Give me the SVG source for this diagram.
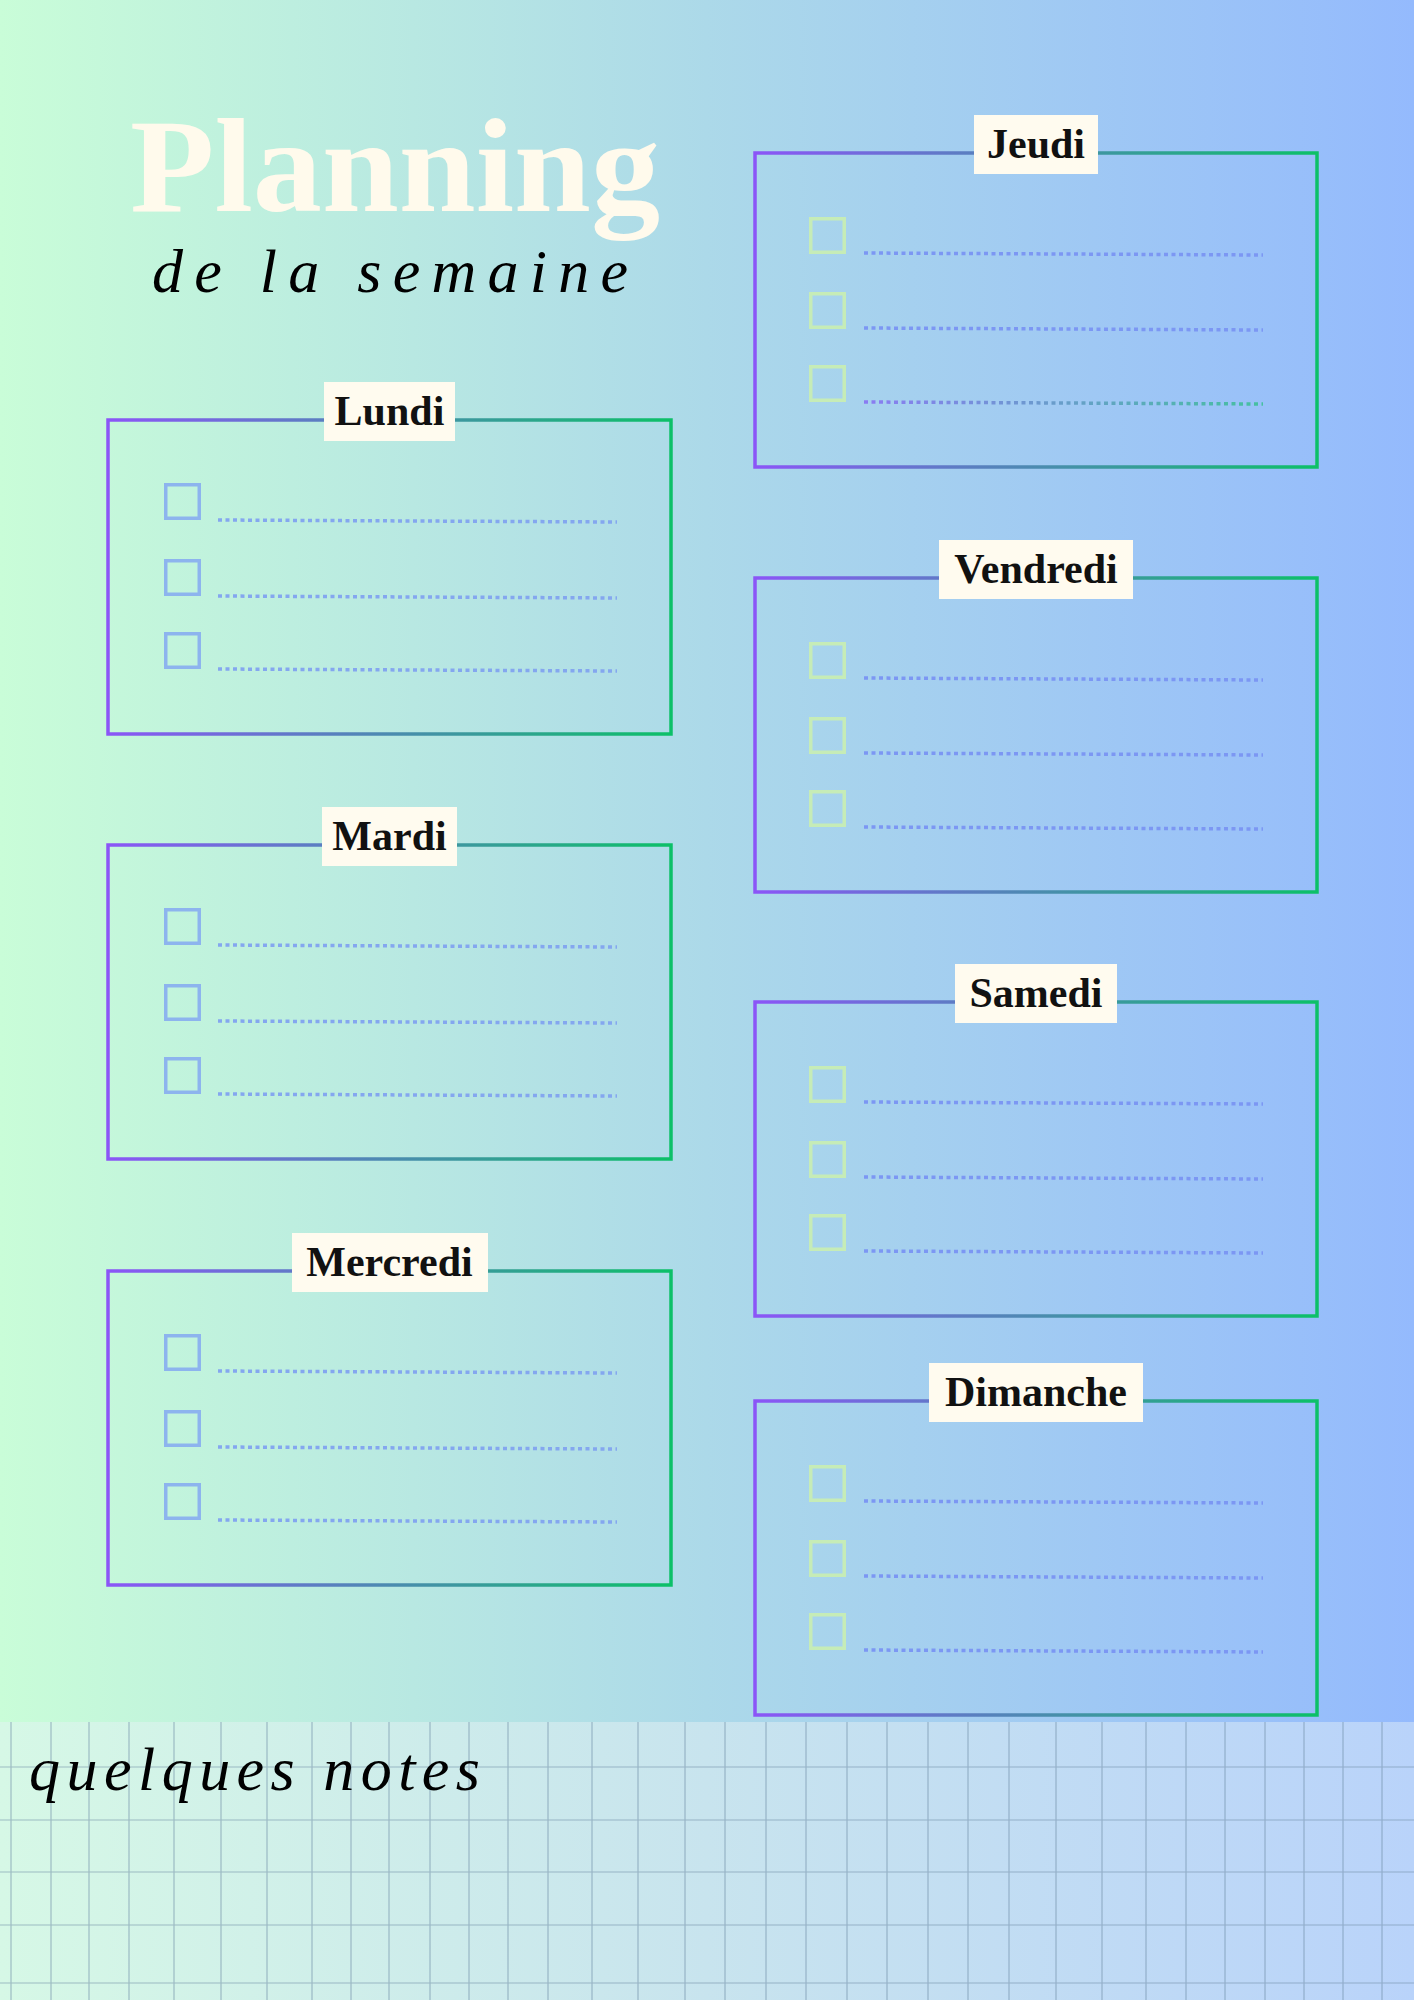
<svg xmlns="http://www.w3.org/2000/svg" width="1414" height="2000" viewBox="0 0 1414 2000">
<defs>
<linearGradient id="bg" x1="0" y1="0" x2="1" y2="0">
<stop offset="0" stop-color="#c9fdd8"/>
<stop offset="0.5" stop-color="#acd9e9"/>
<stop offset="1" stop-color="#94bafd"/>
</linearGradient>
<linearGradient id="paper" x1="0" y1="0" x2="1" y2="0">
<stop offset="0" stop-color="#d6f8e6"/>
<stop offset="0.5" stop-color="#c8e4ee"/>
<stop offset="1" stop-color="#b9d3fa"/>
</linearGradient>
<linearGradient id="frameGrad" x1="0" y1="0" x2="1" y2="0">
<stop offset="0" stop-color="#8b55f7"/>
<stop offset="1" stop-color="#0cc068"/>
</linearGradient>
<linearGradient id="dotGrad" x1="0" y1="0" x2="1" y2="0">
<stop offset="0" stop-color="#8a7cf2"/>
<stop offset="1" stop-color="#45c0a0"/>
</linearGradient>
</defs>
<style>
.frame{fill:none;stroke:url(#frameGrad);stroke-width:3.5}
.cbl{fill:none;stroke:#8db4ee;stroke-width:3.5}
.cbr{fill:none;stroke:#c6ecb7;stroke-width:3.5}
.dl{stroke:#84a7ef;stroke-width:3.5;stroke-dasharray:4 3.5;fill:none}
.dr{stroke:#7c97f3;stroke-width:3.5;stroke-dasharray:4 3.5;fill:none}
.lab{fill:#fffbef}
.day{font-family:"Liberation Serif","Times New Roman",serif;font-weight:bold;font-size:42px;fill:#111;text-anchor:middle}
.script{font-family:"Liberation Serif","Times New Roman",serif;font-style:italic;fill:#000}
.grid{stroke:#6f8da6;stroke-opacity:0.55;stroke-width:1.2;fill:none}
</style>

<rect x="0" y="0" width="1414" height="2000" fill="url(#bg)"/>

<g id="title">
<text x="130" y="211" font-family="'Liberation Serif','Times New Roman',serif" font-weight="bold" font-size="134" fill="#fffaec" textLength="530" lengthAdjust="spacingAndGlyphs">Planning</text>
<text class="script" x="152" y="292" font-size="62" textLength="476" lengthAdjust="spacing">de la semaine</text>
</g>

<g id="notes">
<rect x="0" y="1722" width="1414" height="278" fill="url(#paper)"/>
<path class="grid" d="M0 1767H1414M0 1820H1414M0 1872H1414M0 1925H1414M0 1983H1414
M11 1722V2000M51 1722V2000M89 1722V2000M129 1722V2000M174 1722V2000M221 1722V2000M267 1722V2000M312 1722V2000M351 1722V2000M389 1722V2000M430 1722V2000M469 1722V2000M508 1722V2000M548 1722V2000M592 1722V2000M638 1722V2000M685 1722V2000M725 1722V2000M766 1722V2000M806 1722V2000M847 1722V2000M887 1722V2000M928 1722V2000M968 1722V2000M1009 1722V2000M1056 1722V2000M1102 1722V2000M1146 1722V2000M1186 1722V2000M1225 1722V2000M1265 1722V2000M1304 1722V2000M1343 1722V2000M1382 1722V2000"/>
<text class="script" x="29" y="1790" font-size="62" textLength="451" lengthAdjust="spacing">quelques notes</text>
</g>

<g id="lundi" transform="translate(108,420)">
<rect class="frame" x="0" y="0" width="563" height="314"/>
<rect class="cbl" x="57.75" y="64.75" width="33.5" height="33.5"/>
<rect class="cbl" x="57.75" y="140.75" width="33.5" height="33.5"/>
<rect class="cbl" x="57.75" y="213.75" width="33.5" height="33.5"/>
<line class="dl" x1="110" y1="100" x2="509" y2="102"/>
<line class="dl" x1="110" y1="176" x2="509" y2="178"/>
<line class="dl" x1="110" y1="249" x2="509" y2="251"/>
<rect class="lab" x="216" y="-38" width="131" height="59"/>
<text class="day" x="281.5" y="5">Lundi</text>
</g>

<g id="mardi" transform="translate(108,845)">
<rect class="frame" x="0" y="0" width="563" height="314"/>
<rect class="cbl" x="57.75" y="64.75" width="33.5" height="33.5"/>
<rect class="cbl" x="57.75" y="140.75" width="33.5" height="33.5"/>
<rect class="cbl" x="57.75" y="213.75" width="33.5" height="33.5"/>
<line class="dl" x1="110" y1="100" x2="509" y2="102"/>
<line class="dl" x1="110" y1="176" x2="509" y2="178"/>
<line class="dl" x1="110" y1="249" x2="509" y2="251"/>
<rect class="lab" x="214" y="-38" width="135" height="59"/>
<text class="day" x="281.5" y="5">Mardi</text>
</g>

<g id="mercredi" transform="translate(108,1271)">
<rect class="frame" x="0" y="0" width="563" height="314"/>
<rect class="cbl" x="57.75" y="64.75" width="33.5" height="33.5"/>
<rect class="cbl" x="57.75" y="140.75" width="33.5" height="33.5"/>
<rect class="cbl" x="57.75" y="213.75" width="33.5" height="33.5"/>
<line class="dl" x1="110" y1="100" x2="509" y2="102"/>
<line class="dl" x1="110" y1="176" x2="509" y2="178"/>
<line class="dl" x1="110" y1="249" x2="509" y2="251"/>
<rect class="lab" x="184" y="-38" width="196" height="59"/>
<text class="day" x="281.5" y="5">Mercredi</text>
</g>

<g id="jeudi" transform="translate(755,153)">
<rect class="frame" x="0" y="0" width="562" height="314"/>
<rect class="cbr" x="55.75" y="65.75" width="33.5" height="33.5"/>
<rect class="cbr" x="55.75" y="140.75" width="33.5" height="33.5"/>
<rect class="cbr" x="55.75" y="213.75" width="33.5" height="33.5"/>
<line class="dr" x1="109" y1="100" x2="508" y2="102"/>
<line class="dr" x1="109" y1="175" x2="508" y2="177"/>
<line class="dr" x1="109" y1="249" x2="508" y2="251" style="stroke:url(#dotGrad)"/>
<rect class="lab" x="219" y="-38" width="124" height="59"/>
<text class="day" x="281" y="5">Jeudi</text>
</g>

<g id="vendredi" transform="translate(755,578)">
<rect class="frame" x="0" y="0" width="562" height="314"/>
<rect class="cbr" x="55.75" y="65.75" width="33.5" height="33.5"/>
<rect class="cbr" x="55.75" y="140.75" width="33.5" height="33.5"/>
<rect class="cbr" x="55.75" y="213.75" width="33.5" height="33.5"/>
<line class="dr" x1="109" y1="100" x2="508" y2="102"/>
<line class="dr" x1="109" y1="175" x2="508" y2="177"/>
<line class="dr" x1="109" y1="249" x2="508" y2="251"/>
<rect class="lab" x="184" y="-38" width="194" height="59"/>
<text class="day" x="281" y="5">Vendredi</text>
</g>

<g id="samedi" transform="translate(755,1002)">
<rect class="frame" x="0" y="0" width="562" height="314"/>
<rect class="cbr" x="55.75" y="65.75" width="33.5" height="33.5"/>
<rect class="cbr" x="55.75" y="140.75" width="33.5" height="33.5"/>
<rect class="cbr" x="55.75" y="213.75" width="33.5" height="33.5"/>
<line class="dr" x1="109" y1="100" x2="508" y2="102"/>
<line class="dr" x1="109" y1="175" x2="508" y2="177"/>
<line class="dr" x1="109" y1="249" x2="508" y2="251"/>
<rect class="lab" x="200" y="-38" width="162" height="59"/>
<text class="day" x="281" y="5">Samedi</text>
</g>

<g id="dimanche" transform="translate(755,1401)">
<rect class="frame" x="0" y="0" width="562" height="314"/>
<rect class="cbr" x="55.75" y="65.75" width="33.5" height="33.5"/>
<rect class="cbr" x="55.75" y="140.75" width="33.5" height="33.5"/>
<rect class="cbr" x="55.75" y="213.75" width="33.5" height="33.5"/>
<line class="dr" x1="109" y1="100" x2="508" y2="102"/>
<line class="dr" x1="109" y1="175" x2="508" y2="177"/>
<line class="dr" x1="109" y1="249" x2="508" y2="251"/>
<rect class="lab" x="174" y="-38" width="214" height="59"/>
<text class="day" x="281" y="5">Dimanche</text>
</g>

<g id="connectors"></g>
</svg>
